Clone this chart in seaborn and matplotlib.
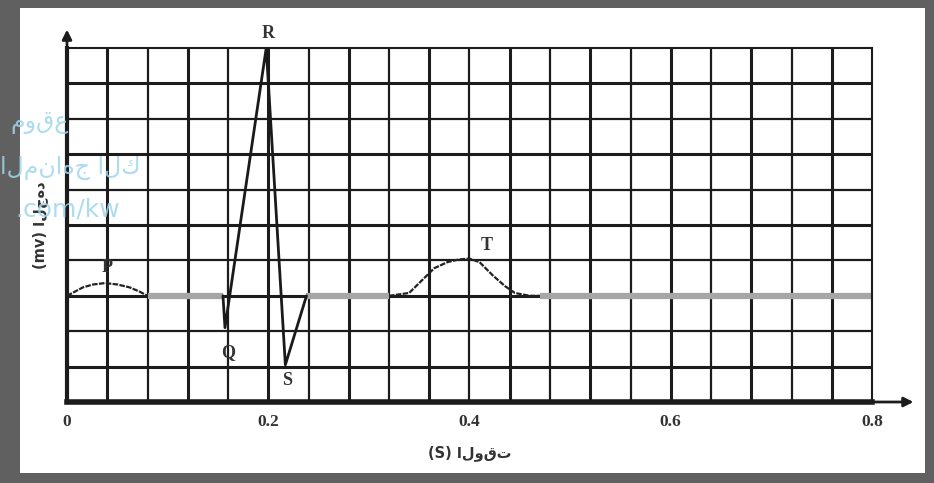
import numpy as np
import pandas as pd
import matplotlib
matplotlib.use("Agg")
import matplotlib.pyplot as plt
from matplotlib.patches import Rectangle
import seaborn as sns

# data (time in s, voltage in grid units)
p_t = [0.0, 0.008, 0.016, 0.026, 0.038, 0.05, 0.062, 0.072, 0.08]
p_v = [3.0, 3.12, 3.24, 3.32, 3.36, 3.32, 3.24, 3.12, 3.0]

qrs_t = [0.155, 0.157, 0.198, 0.217, 0.238]
qrs_v = [3.0, 2.1, 10.0, 1.05, 3.0]

t_t = [0.32, 0.34, 0.355, 0.365, 0.378, 0.39, 0.4, 0.41, 0.423, 0.435, 0.445, 0.46, 0.47]
t_v = [3.0, 3.08, 3.5, 3.78, 3.95, 4.03, 4.05, 3.95, 3.58, 3.28, 3.08, 3.0, 3.0]

base_start = [0.08, 0.238, 0.47]
base_end = [0.155, 0.32, 0.8]
base_v = 3.0

peak_names = ["P", "Q", "R", "S", "T"]
peak_x = [0.04, 0.16, 0.2, 0.219, 0.417]
peak_y = [3.8, 1.4, 10.42, 0.6, 4.43]

xtick_vals = [0, 0.2, 0.4, 0.6, 0.8]
xtick_text = ["0", "0.2", "0.4", "0.6", "0.8"]

sns.set_style("white")
plt.rcParams['font.family'] = ['DejaVu Sans']

fig = plt.figure(figsize=(9.34, 4.83), dpi=100)
fig.patch.set_facecolor("#606060")
# white sheet inside the grey frame
sheet = Rectangle((20 / 934, 10 / 483), (925 - 20) / 934, (475 - 10) / 483,
                  transform=fig.transFigure, facecolor="white", edgecolor="none")
sheet.set_zorder(-10)
fig.patches.append(sheet)

ax = fig.add_axes([67 / 934, 81 / 483, 805 / 934, 354 / 483])
ax.set_zorder(1)
ax.set_facecolor("white")

# grid: every 0.04 s and every unit of voltage
for x in np.arange(0.04, 0.8, 0.04):
    ax.axvline(x, color="#1c1c1c", lw=2.2 if round(x / 0.04) % 2 else 1.6, zorder=1)
for y in range(1, 10):
    ax.axhline(y, color="#1c1c1c", lw=2.2 if y % 2 else 1.6, zorder=1)

# baseline (grey)
ax.hlines([base_v] * len(base_start), base_start, base_end, color="#a6a6a6", lw=4.5, zorder=2)

# waves
sns.lineplot(x=p_t, y=p_v, ax=ax, color="#222222", lw=1.6, sort=False, zorder=3,
             linestyle=(0, (2.5, 0.6)))
sns.lineplot(x=t_t, y=t_v, ax=ax, color="#222222", lw=1.6, sort=False, zorder=3,
             linestyle=(0, (2.5, 0.6)))
sns.lineplot(x=qrs_t, y=qrs_v, ax=ax, color="#1a1a1a", lw=2.0, sort=False, zorder=3)

for name, x, y in zip(peak_names, peak_x, peak_y):
    ax.text(x, y, name, ha="center", va="center", fontsize=13,
            family="Liberation Serif", fontweight="bold", color="#333333", zorder=4)

ax.set_xlim(0, 0.8)
ax.set_ylim(0, 10)
ax.set_xticks(xtick_vals)
ax.set_xticklabels(xtick_text, family="Liberation Serif", fontweight="bold",
                   fontsize=12.5, color="#333333")
ax.set_yticks([])
ax.tick_params(axis="x", length=0, pad=9)

for side in ["top", "right"]:
    ax.spines[side].set_color("#1c1c1c")
    ax.spines[side].set_linewidth(1.5)
ax.spines["bottom"].set_color("#1c1c1c")
ax.spines["bottom"].set_linewidth(4)
ax.spines["left"].set_color("#1c1c1c")
ax.spines["left"].set_linewidth(3)

# axis arrows
ax.annotate("", xy=(1.055, 0), xytext=(1.0, 0), xycoords="axes fraction",
            arrowprops=dict(arrowstyle="-|>", color="#1c1c1c", lw=2, mutation_scale=14),
            annotation_clip=False)
ax.annotate("", xy=(0, 1.06), xytext=(0, 1.0), xycoords="axes fraction",
            arrowprops=dict(arrowstyle="-|>", color="#1c1c1c", lw=2, mutation_scale=14),
            annotation_clip=False)

ax.text(0.5, -0.143, "(S) الوقت", transform=ax.transAxes, ha="center", va="center",
        fontsize=10.5, fontweight="bold", color="#333333")
ax.text(-0.034, 0.5, "(mv) الجهد", transform=ax.transAxes, ha="center", va="center",
        rotation=90, fontsize=10.5, fontweight="bold", color="#333333")

# faint watermark on the left
wm = "#9fd6ee"
fig.text(40 / 934, 1 - 122 / 483, "موقع", color=wm, fontsize=17, ha="center", va="center",
         alpha=0.85, zorder=5)
fig.text(70 / 934, 1 - 168 / 483, "المناهج الك", color=wm, fontsize=17, ha="center",
         va="center", alpha=0.85, zorder=5)
fig.text(68 / 934, 1 - 210 / 483, ".com/kw", color=wm, fontsize=18, ha="center",
         va="center", alpha=0.85, zorder=5)

fig.savefig("out.png", dpi=100, facecolor=fig.get_facecolor())
